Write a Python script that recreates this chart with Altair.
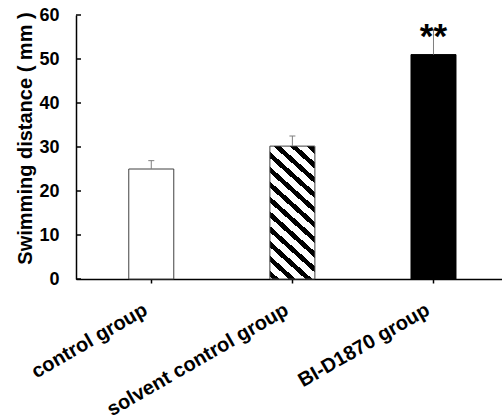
import json

import altair as alt
import pandas as pd

# Swimming distance per group (mean and error), with significance marks
groups = ["control group", "solvent control group", "BI-D1870 group"]
means = [25.0, 30.2, 51.0]
errors = [1.9, 2.3, 5.6]
stars = ["", "", "**"]
y_ticks = [0, 10, 20, 30, 40, 50, 60]

PLOT_W, PLOT_H = 426, 264
Y_MAX = 60
X_DOMAIN = [-0.498, 2.45]
BAR_W = 45
FONT = "Liberation Sans"
ERR_COLOR = "#7f7f7f"

df = pd.DataFrame({
    "pos": list(range(len(groups))),
    "group": groups,
    "mean": means,
    "err": errors,
    "star": stars,
})
df["top"] = df["mean"] + df["err"]
ticks_df = pd.DataFrame({"v": y_ticks})


def stripe_gradient(bar_value, period=16.5, slope=0.9, ink=0.42, phase=0.15):
    """Diagonal black/white hatching built from a hard-stop linear gradient."""
    w = BAR_W
    h = bar_value * PLOT_H / Y_MAX
    dy = -h / (w * slope)
    norm = 1 + dy * dy
    pt = period / (w * norm)
    stops = []
    k = -1
    while True:
        start = (k + phase) * pt
        if start > 1:
            break
        end = start + ink * pt
        a, b = max(0.0, start), min(1.0, end)
        if b > a:
            a, b = round(a, 5), round(b, 5)
            stops += [
                alt.GradientStop(offset=a, color="white"),
                alt.GradientStop(offset=a, color="black"),
                alt.GradientStop(offset=b, color="black"),
                alt.GradientStop(offset=b, color="white"),
            ]
        k += 1
    return alt.LinearGradient(gradient="linear", stops=stops,
                              x1=0, y1=1, x2=1, y2=round(1 + dy, 5))


x_scale = alt.Scale(domain=X_DOMAIN, nice=False, zero=False)
y_scale = alt.Scale(domain=[0, Y_MAX], nice=False)

x_axis = alt.Axis(
    values=list(range(len(groups))),
    labelExpr=json.dumps(groups) + "[datum.value]",
    title=None, grid=False,
    domainColor="black", domainWidth=1.5,
    tickColor="black", tickWidth=1.5, tickSize=4,
    labelAngle=-30, labelAlign="right", labelBaseline="middle",
    labelFont=FONT, labelFontSize=20, labelFontWeight="bold",
    labelColor="black", labelPadding=25, labelOffset=-6,
    labelOverlap=False, labelBound=False, labelFlush=False, labelLimit=0,
)
y_axis = alt.Axis(
    values=y_ticks, title="Swimming distance ( mm )", grid=False,
    domainColor="black", domainWidth=1.5, ticks=False, tickSize=0,
    labelFont=FONT, labelFontSize=18, labelFontWeight="bold",
    labelColor="black", labelPadding=17,
    titleFont=FONT, titleFontSize=20, titleFontWeight="bold",
    titleColor="black", titleAngle=270, titleBaseline="alphabetic",
    titleX=-45, titleY=123,
)


def xq(field):
    return alt.X(field, scale=x_scale, axis=x_axis)


def yq(field):
    return alt.Y(field, scale=y_scale, axis=y_axis)


base = alt.Chart(df)

control = base.transform_filter("datum.pos == 0").mark_bar(
    orient="vertical", size=BAR_W, fill="white", stroke="#404040", strokeWidth=1
).encode(x=xq("pos:Q"), y=yq("mean:Q"))

solvent = base.transform_filter("datum.pos == 1").mark_bar(
    orient="vertical", size=BAR_W, fill=stripe_gradient(means[1]),
    stroke="#404040", strokeWidth=1
).encode(x=xq("pos:Q"), y=yq("mean:Q"))

treated = base.transform_filter("datum.pos == 2").mark_bar(
    orient="vertical", size=BAR_W, fill="black", stroke="black", strokeWidth=1
).encode(x=xq("pos:Q"), y=yq("mean:Q"))

err_line = base.mark_rule(color=ERR_COLOR, strokeWidth=1).encode(
    x=xq("pos:Q"), y=yq("mean:Q"), y2="top:Q",
)

err_cap = base.mark_tick(orient="horizontal", size=6, thickness=1,
                         color=ERR_COLOR, opacity=1).encode(
    x=xq("pos:Q"), y=yq("top:Q"),
)

star_text = base.transform_filter("datum.star != ''").mark_text(
    font=FONT, fontSize=35, fontWeight="bold", color="black",
    align="center", baseline="alphabetic", dy=-7,
).encode(x=xq("pos:Q"), y=yq("mean:Q"), text="star:N")

# Tick marks of the value axis point inward, into the plot
inner_ticks = alt.Chart(ticks_df).mark_rule(color="black", strokeWidth=1.5).encode(
    y=yq("v:Q"),
    x=alt.value(0),
    x2=alt.value(5),
)

chart = alt.layer(
    control, solvent, treated, err_line, err_cap, star_text, inner_ticks
).properties(
    width=PLOT_W, height=PLOT_H,
    autosize=alt.AutoSizeParams(type="none"),
    padding={"left": 76, "top": 15, "right": 0, "bottom": 140},
    background="white",
).configure_view(stroke=None)

chart.save("out.html", embed_options={"renderer": "svg", "actions": False})
